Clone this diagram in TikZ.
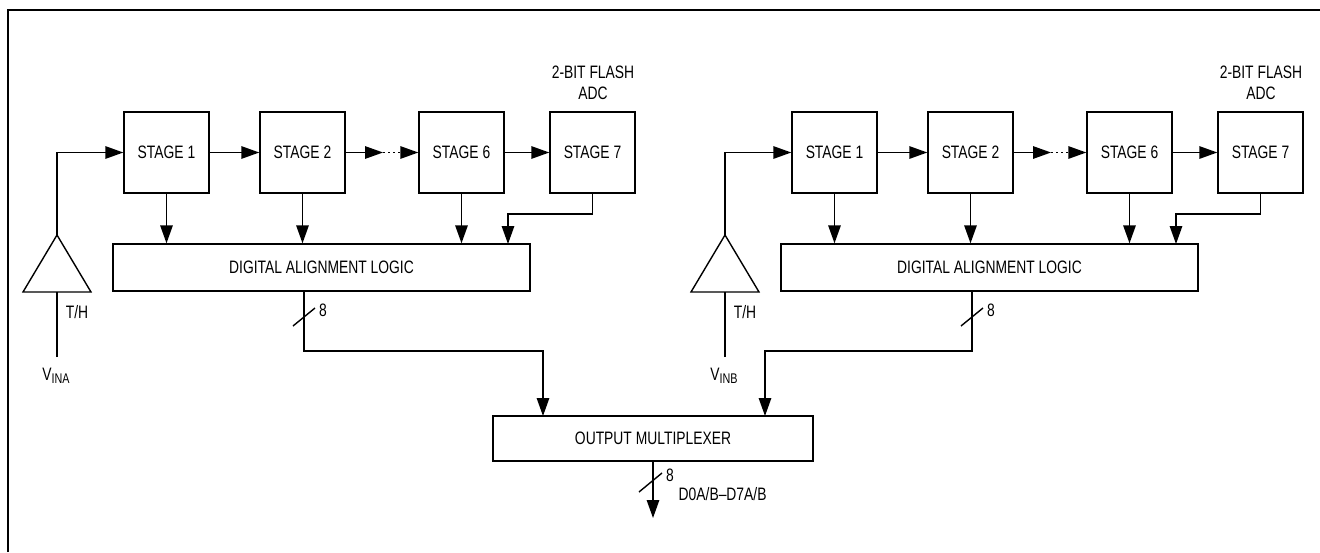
\documentclass[tikz,border=0pt]{standalone}
\usepackage{fontspec}
\setmainfont{Liberation Sans}[FakeStretch=0.77]
\usetikzlibrary{arrows.meta}
\begin{document}
\begin{tikzpicture}[x=1pt,y=-1pt,line width=1.4pt,
  blk/.style={draw,line width=1.4pt,inner sep=0pt,minimum width=85pt,minimum height=81pt,font=\fontsize{18}{21}\selectfont},
  lbl/.style={inner sep=0pt,font=\fontsize{18}{21}\selectfont},
  arr/.style={-{Triangle[length=18pt,width=12.5pt]}},
  dots/.style={dash pattern=on 1.5pt off 3.5pt}]
\useasboundingbox (0,0) rectangle (1320,552);
\coordinate (fbl) at (7.5,552);
\coordinate (ftl) at (7.5,10);
\coordinate (ftr) at (1320,10);
\draw[line width=2pt] (fbl) -- (ftl) -- (ftr);
\foreach \p/\dx/\v in {A/0/INA,B/668/INB}{
\begin{scope}[xshift=\dx pt]
  \node[blk] (s1\p) at (166.5,152.5) {STAGE 1};
  \node[blk] (s2\p) at (302.5,152.5) {STAGE 2};
  \node[blk] (s6\p) at (461.5,152.5) {STAGE 6};
  \node[blk] (s7\p) at (592.5,152.5) {STAGE 7};
  \node[lbl,align=center] (fl\p) at (593,83) {2-BIT FLASH\\ADC};
  \node[blk,minimum width=417pt,minimum height=47pt] (dal\p) at (321.5,267.5) {DIGITAL ALIGNMENT LOGIC};
  \coordinate (ap\p) at (57,235);
  \coordinate (bl\p) at (23,292);
  \coordinate (br\p) at (91,292);
  \coordinate (bm\p) at (57,292);
  \draw (ap\p) -- (bl\p) -- (br\p) -- cycle;
  \coordinate (vt\p) at (57,357);
  \draw (vt\p) -- (bm\p);
  \node[lbl] (vin\p) at (56,376) {V\raisebox{-3pt}{\fontsize{14}{14}\selectfont \v}};
  \node[lbl] (th\p) at (77,312) {T/H};
  \draw[arr] (ap\p) |- (s1\p.west);
  \draw[arr] (s1\p) -- (s2\p);
  \coordinate (d1\p) at (383,152.5);
  \coordinate (d2\p) at (401,152.5);
  \draw[arr] (s2\p) -- (d1\p);
  \draw[dots] (d1\p) -- (d2\p);
  \draw[arr] (d2\p) -- (s6\p);
  \draw[arr] (s6\p) -- (s7\p);
  \draw[arr] (s1\p.south) -- (s1\p.south |- dal\p.north);
  \draw[arr] (s2\p.south) -- (s2\p.south |- dal\p.north);
  \draw[arr] (s6\p.south) -- (s6\p.south |- dal\p.north);
  \coordinate (k\p) at (592.5,214);
  \coordinate (m\p) at (508,244);
  \draw[arr] (s7\p.south) -- (k\p) -| (m\p);
  \coordinate (o\p) at (304,291);
  \coordinate (j\p) at (304,351);
  \coordinate (sl1\p) at (293,326);
  \coordinate (sl2\p) at (315,308);
  \draw (sl1\p) -- (sl2\p);
  \node[lbl] (n\p) at (323,310) {8};
\end{scope}}
\node[blk,minimum width=320pt,minimum height=45pt] (mux) at (653,438.5) {OUTPUT MULTIPLEXER};
\coordinate (ma) at (543,416);
\coordinate (mb) at (765,416);
\draw[arr] (oA) -- (jA) -| (ma);
\draw[arr] (oB) -- (jB) -| (mb);
\coordinate (mo) at (653,518);
\draw[arr] (mux.south) -- (mo);
\coordinate (ms1) at (639,492);
\coordinate (ms2) at (662,473);
\draw (ms1) -- (ms2);
\node[lbl] (mn) at (670,475) {8};
\node[lbl,anchor=west] (dout) at (678,494) {D0A/B–D7A/B};
\end{tikzpicture}
\end{document}
